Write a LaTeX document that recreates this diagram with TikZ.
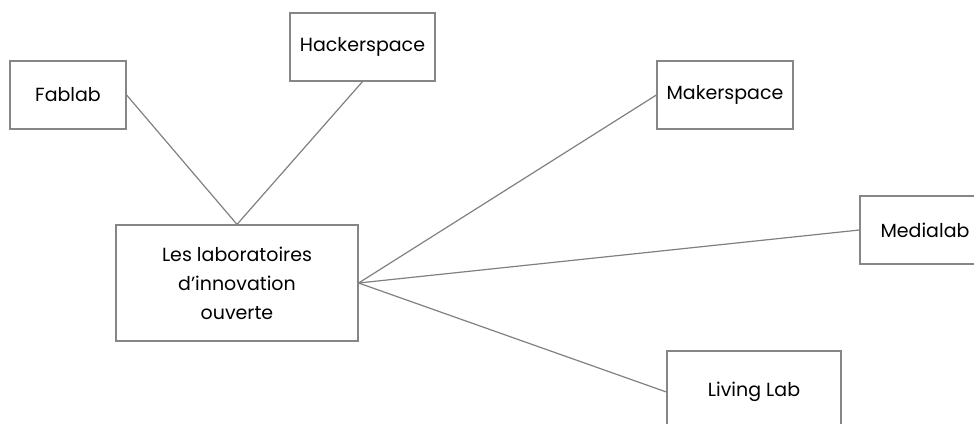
\documentclass[tikz,border=0pt]{standalone}
\usepackage{fontspec}
\setmainfont{Poppins}

\tikzset{
	labbox/.style = {draw = gray!95, line width = 1.2pt, fill = white, align = center, inner sep = 0pt},
	link/.style = {draw = gray, line width = 1.2pt}
}

\begin{document}
\begin{tikzpicture}[x = 1pt, y = -1pt, font = \fontsize{19}{29}\selectfont]
		\useasboundingbox (0,0) rectangle (974,423);
		\clip (0,0) rectangle (974,423);
		\node[labbox, minimum width = 116pt, minimum height = 68pt] (fablab) at (68,95) {Fablab};
		\node[labbox, minimum width = 145pt, minimum height = 68pt] (hacker) at (362.5,47) {Hackerspace};
		\node[labbox, minimum width = 242pt, minimum height = 116pt] (centre) at (237,283) {Les laboratoires\\d’innovation\\ouverte};
		\node[labbox, minimum width = 136pt, minimum height = 68pt] (maker) at (725,95) {Makerspace};
		\node[labbox, minimum width = 130pt, minimum height = 68pt] (media) at (925,230) {Medialab};
		\node[labbox, minimum width = 174pt, minimum height = 82pt] (living) at (754,392) {Living Lab};
		\draw[link] (fablab.east) -- (centre.north);
		\draw[link] (hacker.south) -- (centre.north);
		\draw[link] (centre.east) -- (maker.west);
		\draw[link] (centre.east) -- (media.west);
		\draw[link] (centre.east) -- (living.west);
	\end{tikzpicture}
\end{document}
